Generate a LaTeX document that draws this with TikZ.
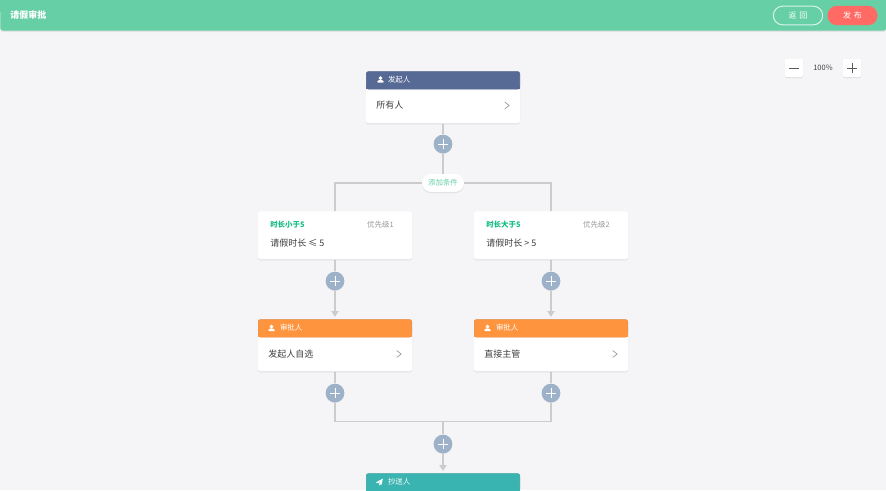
\documentclass[tikz,border=0pt]{standalone}
\usepackage{fontspec}
\setmainfont{Noto Sans CJK SC}
\usetikzlibrary{shadows,arrows.meta,calc}
\pgfdeclarelayer{back}
\pgfdeclarelayer{conn}
\pgfsetlayers{back,conn,main}
\definecolor{pagebg}{HTML}{F5F5F7}
\definecolor{topbar}{HTML}{66CFA6}
\definecolor{hblue}{HTML}{576A95}
\definecolor{horange}{HTML}{FF943E}
\definecolor{hteal}{HTML}{3AB4B0}
\definecolor{plusc}{HTML}{9DB2C8}
\definecolor{linec}{HTML}{CCCCCC}
\definecolor{condg}{HTML}{15BC83}
\definecolor{pillg}{HTML}{66CFA6}
\definecolor{pub}{HTML}{FF6B64}
\definecolor{txt}{HTML}{3F3F3F}
\definecolor{soft}{HTML}{989898}
\tikzset{
  softshadow/.style={drop shadow={shadow xshift=0pt,shadow yshift=-0.4pt,opacity=.05,fill=black},
                     drop shadow={shadow xshift=0pt,shadow yshift=-1pt,opacity=.05,fill=black}},
  cardbox/.style={fill=white,rounded corners=1.6pt,inner sep=0pt,minimum width=115.5pt,softshadow},
  headbox/.style={fill=#1,draw=#1!88!black,line width=.4pt,rounded corners=1.6pt,inner sep=0pt,minimum width=115.1pt,minimum height=13.2pt},
  headtxt/.style={text=white,font=\fontsize{5.6pt}{7pt}\selectfont,inner sep=0pt,anchor=west},
  bodytxt/.style={text=txt,font=\fontsize{6.75pt}{8pt}\selectfont,inner sep=0pt,anchor=west},
  smalltxt/.style={font=\fontsize{5.6pt}{7pt}\selectfont,inner sep=0pt},
  plusnode/.style={circle,fill=plusc,minimum size=14pt,inner sep=0pt,
     drop shadow={shadow xshift=0pt,shadow yshift=-.4pt,opacity=.12,fill=black}},
  plusmark/.style={draw=white,line width=.55pt},
  conn/.style={draw=linec,line width=.85pt},
  connarrow/.style={conn,-{Triangle[length=4.4pt,width=5.6pt,fill=linec]},shorten >=1.6pt},
  chev/.style={draw=soft,line width=.5pt,line cap=round,line join=round},
  pill/.style={fill=white,rounded corners=6.7pt,minimum width=31.5pt,minimum height=13.5pt,inner sep=0pt,softshadow},
  zoombtn/.style={fill=white,rounded corners=1pt,minimum size=13.5pt,inner sep=0pt,softshadow},
  zoommark/.style={draw=txt!85!white,line width=.65pt},
}
% person icon centred at #1, colour white
\newcommand{\personicon}[1]{%
  \fill[white] ($(#1)+(0,-1.4)$) circle (1.9);
  \fill[white,rounded corners=.5pt] ($(#1)+(-3.2,3.2)$) -- ($(#1)+(-3.2,1.6)$) -- ($(#1)+(-1,.4)$) -- ($(#1)+(1,.4)$) -- ($(#1)+(3.2,1.6)$) -- ($(#1)+(3.2,3.2)$) -- cycle;
}
\newcommand{\planeicon}[1]{%
  \fill[white] ($(#1)+(3.4,-3.4)$) -- ($(#1)+(-3.6,.4)$) -- ($(#1)+(-1.2,1.2)$) -- ($(#1)+(2,-1.6)$) -- ($(#1)+(-.4,1.7)$) -- ($(#1)+(-.4,3.6)$) -- ($(#1)+(.8,2.2)$) -- ($(#1)+(2,2.8)$) -- cycle;
}
% \headcard{name}{center x}{top y}{colour}{title}
\newcommand{\headcard}[5]{%
  \node[cardbox,minimum height=39pt,anchor=north] (#1) at (#2,#3) {};
  \node[headbox=#4,anchor=north] (#1h) at (#2,#3+.3) {};
  \fill[#4] ($(#1h.south west)+(-.4,-3)$) rectangle ($(#1h.south east)+(.4,0)$);
  \node[headtxt] (#1t) at ($(#1.north west)+(22,8.2)$) {#5};
}
\newcommand{\chevron}[1]{%
  \draw[chev] ($(#1)+(-2.2,-3.4)$) -- ($(#1)+(2.2,0)$) -- ($(#1)+(-2.2,3.4)$);
}
\newcommand{\plusbtn}[3]{%
  \node[plusnode] (#1) at (#2,#3) {};
  \draw[plusmark] ($(#1.center)+(-5,0)$) -- ($(#1.center)+(5,0)$);
  \draw[plusmark] ($(#1.center)+(0,-5)$) -- ($(#1.center)+(0,5)$);
}
\begin{document}
\begin{tikzpicture}[x=.75pt,y=-.75pt]
\useasboundingbox (0,0) rectangle (886,490);
\clip (0,0) rectangle (886,490);
\begin{pgfonlayer}{back}
  \fill[pagebg] (0,0) rectangle (886,490);
\end{pgfonlayer}
% top bar
\node[fill=topbar,rounded corners=2.2pt,minimum width=664.5pt,minimum height=23.25pt,inner sep=0pt,anchor=south west,softshadow] (bar) at (0,31) {};
\fill[topbar] (0,0) rectangle (886,12);
\node[text=white,font=\fontsize{6.75pt}{8pt}\selectfont\bfseries,inner sep=0pt,anchor=west] (title) at (10,15.5) {请假审批};
\node[draw=white!75!topbar,line width=.75pt,rounded corners=7pt,minimum width=37pt,minimum height=14pt,inner sep=0pt,text=white,font=\fontsize{6pt}{8pt}\selectfont] (back) at (798,15.5) {返\,\,回};
\node[fill=pub,rounded corners=7.2pt,minimum width=37.5pt,minimum height=14.6pt,inner sep=0pt,text=white,font=\fontsize{6pt}{8pt}\selectfont] (publish) at (852.5,15.5) {发\,\,布};
% zoom
\node[zoombtn] (zm) at (794,68) {};
\draw[zoommark] ($(zm.center)+(-5,0)$) -- ($(zm.center)+(5,0)$);
\node[zoombtn] (zp) at (852,68) {};
\draw[zoommark] ($(zp.center)+(-5,0)$) -- ($(zp.center)+(5,0)$);
\draw[zoommark] ($(zp.center)+(0,-5)$) -- ($(zp.center)+(0,5)$);
\node[smalltxt,text=txt] (zt) at (823,67.5) {100\%};
% initiator
\headcard{start}{443}{71}{hblue}{发起人}
\personicon{380.5,79.5}
\node[bodytxt] (starttxt) at (376,105.5) {所有人};
\chevron{507,105.5}
\plusbtn{p1}{443}{144}
% branch pill
\node[pill] (add) at (443,183) {};
\node[smalltxt,text=pillg] (addt) at (443,183) {添加条件};
% conditions
\node[cardbox,minimum height=36pt,anchor=north] (c1) at (335,211) {};
\node[smalltxt,text=condg,anchor=west,font=\fontsize{5.6pt}{7pt}\selectfont\bfseries] (c1a) at (270,224.5) {时长小于5};
\node[smalltxt,text=soft,anchor=east] (c1b) at (394,224.5) {优先级1};
\node[bodytxt] (c1c) at (270,243) {请假时长 ≤ 5};
\node[cardbox,minimum height=36pt,anchor=north] (c2) at (551,211) {};
\node[smalltxt,text=condg,anchor=west,font=\fontsize{5.6pt}{7pt}\selectfont\bfseries] (c2a) at (486,224.5) {时长大于5};
\node[smalltxt,text=soft,anchor=east] (c2b) at (610,224.5) {优先级2};
\node[bodytxt] (c2c) at (486,243) {请假时长 > 5};
\plusbtn{p2}{335}{281}
\plusbtn{p3}{551}{281}
% approvers
\headcard{a1}{335}{319}{horange}{审批人}
\personicon{271.5,328}
\node[bodytxt] (a1txt) at (268,354) {发起人自选};
\chevron{399,354}
\headcard{a2}{551}{319}{horange}{审批人}
\personicon{487.5,328}
\node[bodytxt] (a2txt) at (484,354) {直接主管};
\chevron{615,354}
\plusbtn{p4}{335}{393}
\plusbtn{p5}{551}{393}
\coordinate (joinl) at (335,421.5);
\coordinate (joinr) at (551,421.5);
\coordinate (joinm) at (443,421.5);
\coordinate (branchl) at (335,183);
\coordinate (branchr) at (551,183);
\plusbtn{p6}{443}{444}
% cc
\headcard{cc}{443}{473}{hteal}{抄送人}
\planeicon{379.5,482}
% connectors
\begin{pgfonlayer}{conn}
  \draw[conn] (start) -- (p1);
  \draw[conn] (p1) -- (add);
  \draw[conn] (add) -- (branchl) -- (c1);
  \draw[conn] (add) -- (branchr) -- (c2);
  \draw[conn] (c1) -- (p2);
  \draw[conn] (c2) -- (p3);
  \draw[connarrow] (p2) -- (a1);
  \draw[connarrow] (p3) -- (a2);
  \draw[conn] (a1) -- (p4);
  \draw[conn] (a2) -- (p5);
  \draw[conn] (p4) -- (joinl) -- (joinr) -- (p5);
  \draw[conn] (joinm) -- (p6);
  \draw[connarrow] (p6) -- (cc);
\end{pgfonlayer}
\end{tikzpicture}
\end{document}
